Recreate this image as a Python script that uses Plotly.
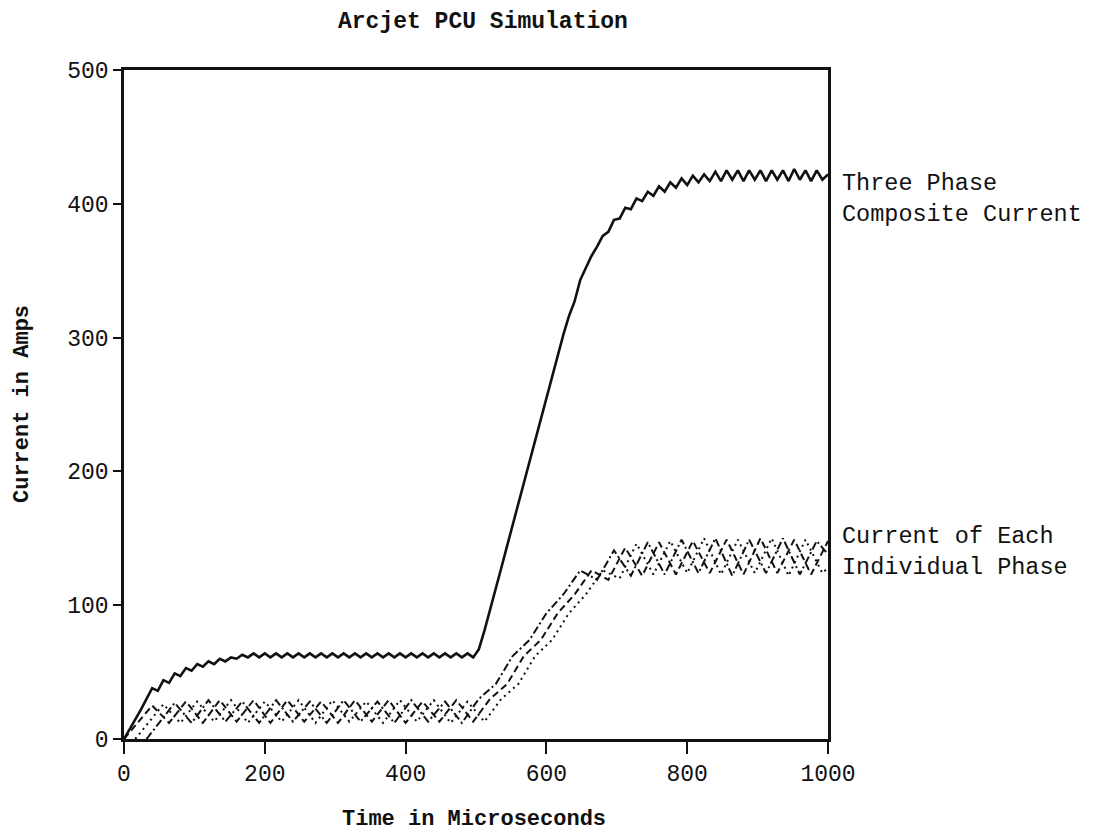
import plotly.graph_objects as go

# ---------------- data ----------------
composite_t = [0, 8, 16, 24, 32, 40, 48, 56, 64, 72, 80, 88, 96, 104, 112, 120, 128, 136, 144, 152,
               160, 168, 176, 184, 192, 200, 208, 216, 224, 232, 240, 248, 256, 264, 272, 280, 288, 296,
               304, 312, 320, 328, 336, 344, 352, 360, 368, 376, 384, 392, 400, 408, 416, 424, 432, 440,
               448, 456, 464, 472, 480, 488, 496, 504, 512, 520, 528, 536, 544, 552, 560, 568, 576, 584,
               592, 600, 608, 616, 624, 632, 640, 648, 656, 664, 672, 680, 688, 696, 704, 712, 720, 728,
               736, 744, 752, 760, 768, 776, 784, 792, 800, 808, 816, 824, 832, 840, 848, 856, 864, 872,
               880, 888, 896, 904, 912, 920, 928, 936, 944, 952, 960, 968, 976, 984, 992, 1000]
composite_i = [0, 7, 14, 22, 30, 38, 36, 44, 42, 49, 47, 53, 51, 56, 54, 58, 56, 60, 58, 61,
               60, 63, 61, 64, 61, 64, 61, 64, 61, 64, 61, 64, 61, 64, 61, 64, 61, 64,
               61, 64, 61, 64, 61, 64, 61, 64, 61, 64, 61, 64, 61, 64, 61, 64, 61, 64,
               61, 64, 61, 64, 61, 64, 61, 67, 81, 96, 112, 128, 144, 160, 176, 192, 208, 224,
               240, 255, 270, 286, 302, 316, 327, 343, 352, 361, 368, 376, 379, 388, 389, 397, 396, 404,
               402, 409, 406, 413, 409, 416, 412, 419, 414, 421, 416, 422, 417, 424, 417, 425, 418, 425,
               417, 425, 418, 425, 417, 425, 418, 425, 417, 426, 418, 425, 417, 425, 418, 422]

phase_a_t = [0, 40, 64, 88, 112, 136, 160, 184, 208, 232, 256, 280, 304, 328, 352, 376, 400, 424,
             448, 472, 496, 520, 544, 568, 592, 616, 640, 664, 688, 712, 736, 760, 784, 808, 832,
             856, 880, 904, 928, 952, 976, 1000]
phase_a_i = [0, 25, 12, 28, 12, 29, 13, 29, 12, 29, 13, 28, 12, 29, 13, 29, 12, 28,
             13, 29, 13, 30, 41, 62, 74, 94, 108, 126, 119, 143, 122, 147, 123, 148, 124,
             149, 123, 150, 124, 149, 123, 148]

phase_b_t = [16, 56, 80, 104, 128, 152, 176, 200, 224, 248, 272, 296, 320, 344, 368, 392, 416,
             440, 464, 488, 512, 536, 560, 584, 608, 632, 656, 680, 704, 728, 752, 776, 800, 824,
             848, 872, 896, 920, 944, 968, 992, 1000]
phase_b_i = [0, 26, 12, 28, 13, 29, 12, 28, 13, 29, 12, 29, 13, 28, 12, 29, 13,
             29, 12, 28, 13, 30, 41, 62, 74, 94, 108, 126, 120, 146, 123, 148, 124, 150,
             123, 149, 124, 150, 122, 149, 124, 128]

phase_c_t = [32, 72, 96, 120, 144, 168, 192, 216, 240, 264, 288, 312, 336, 360, 384, 408, 432,
             456, 480, 504, 528, 552, 576, 600, 624, 648, 672, 696, 720, 744, 768, 792, 816, 840,
             864, 888, 912, 936, 960, 984, 1000]
phase_c_i = [0, 27, 12, 29, 13, 28, 12, 29, 13, 28, 12, 29, 13, 28, 12, 29, 13,
             28, 12, 30, 41, 62, 74, 94, 108, 126, 119, 141, 122, 147, 123, 149, 124, 150,
             122, 149, 124, 150, 123, 148, 138]

x_ticks = [0, 200, 400, 600, 800, 1000]
y_ticks = [0, 100, 200, 300, 400, 500]

title_text = "Arcjet PCU Simulation"
x_title = "Time in Microseconds"
y_title = "Current in Amps"
label_composite = "Three Phase<br>Composite Current"
label_phase = "Current of Each<br>Individual Phase"

# ---------------- figure ----------------
MONO = "Liberation Mono, Courier New, DejaVu Sans Mono, monospace"
INK = "#111111"
BODY = 8                              # default page margin around the plot div
W, H = 1094 - 2 * BODY, 840 - 2 * BODY
PL, PR, PT, PB = 124, 828, 70, 739    # plot-area edges in window pixels


def px_x(x):
    return (x - PL) / (PR - PL)


def px_y(y):
    return (PB - y) / (PB - PT)


fig = go.Figure()
fig.add_trace(go.Scatter(x=composite_t, y=composite_i, mode="lines", name="Three Phase Composite Current",
                         line=dict(color=INK, width=2.6)))
fig.add_trace(go.Scatter(x=phase_a_t, y=phase_a_i, mode="lines", name="Phase A",
                         line=dict(color=INK, width=2, dash="7px,4px")))
fig.add_trace(go.Scatter(x=phase_b_t, y=phase_b_i, mode="lines", name="Phase B",
                         line=dict(color=INK, width=2, dash="2px,4px")))
fig.add_trace(go.Scatter(x=phase_c_t, y=phase_c_i, mode="lines", name="Phase C",
                         line=dict(color=INK, width=2, dash="8px,3px,2px,3px")))

fig.update_layout(
    width=W, height=H,
    margin=dict(l=PL - BODY, r=W - (PR - BODY), t=PT - BODY, b=H - (PB - BODY)),
    paper_bgcolor="white", plot_bgcolor="white",
    showlegend=False,
    font=dict(family=MONO, color=INK, size=23),
)

fig.update_xaxes(range=[0, 1000], tickvals=x_ticks, ticktext=[str(v) for v in x_ticks],
                 showline=True, linecolor=INK, linewidth=2.5, mirror=True,
                 ticks="outside", ticklen=12, tickwidth=2, tickcolor=INK,
                 showgrid=False, zeroline=False,
                 tickfont=dict(family=MONO, size=23, color=INK))
fig.update_yaxes(range=[0, 500], tickvals=y_ticks, ticktext=[str(v) for v in y_ticks],
                 showline=True, linecolor=INK, linewidth=2.5, mirror=True,
                 ticks="outside", ticklen=8, tickwidth=2, tickcolor=INK,
                 showgrid=False, zeroline=False,
                 tickfont=dict(family=MONO, size=23, color=INK))

# title and axis titles placed at measured window-pixel positions
fig.add_annotation(text=title_text, xref="paper", yref="paper", x=px_x(483), y=px_y(22),
                   xanchor="center", yanchor="middle", showarrow=False,
                   font=dict(family=MONO, size=23, weight="bold", color=INK))
fig.add_annotation(text=x_title, xref="paper", yref="paper", x=px_x(474), y=px_y(819),
                   xanchor="center", yanchor="middle", showarrow=False,
                   font=dict(family=MONO, size=22, weight="bold", color=INK))
fig.add_annotation(text=y_title, xref="paper", yref="paper", x=px_x(22), y=px_y(404),
                   xanchor="center", yanchor="middle", showarrow=False, textangle=-90,
                   font=dict(family=MONO, size=22, weight="bold", color=INK))

fig.add_annotation(text=label_composite, xref="paper", yref="paper",
                   x=px_x(840), y=px_y(199),
                   xanchor="left", yanchor="middle", align="left", showarrow=False,
                   font=dict(family=MONO, size=23.5, color=INK))
fig.add_annotation(text=label_phase, xref="paper", yref="paper",
                   x=px_x(840), y=px_y(552),
                   xanchor="left", yanchor="middle", align="left", showarrow=False,
                   font=dict(family=MONO, size=23.5, color=INK))

fig.write_html("out.html")
